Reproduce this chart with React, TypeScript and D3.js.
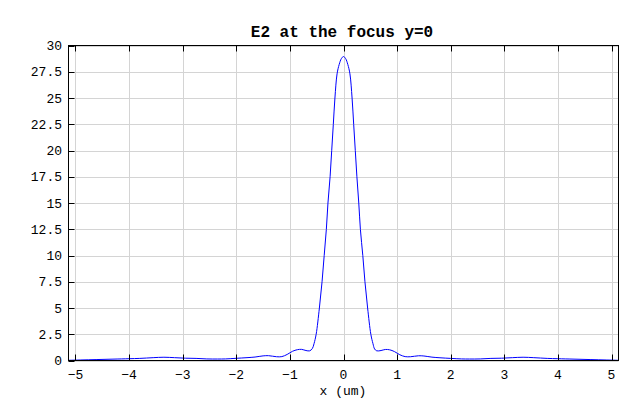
import { useRef, useEffect } from "react";
import * as d3 from "d3";

// E2 intensity at focus
const xPos = [
  -5.13, -4.9, -4.6, -4.3, -4.0, -3.8, -3.55, -3.35, -3.15, -2.95, -2.75,
  -2.55, -2.35, -2.2, -2.0, -1.8, -1.65, -1.5, -1.4, -1.25, -1.15, -1.05,
  -0.95, -0.86, -0.78, -0.7, -0.63, -0.58, -0.55, -0.51, -0.45, -0.4, -0.36,
  -0.32, -0.29, -0.25, -0.22, -0.19, -0.16, -0.12, -0.08, -0.04, 0, 0.04,
  0.08, 0.12, 0.16, 0.19, 0.22, 0.25, 0.285, 0.315, 0.36, 0.4, 0.45, 0.51,
  0.55, 0.58, 0.62, 0.7, 0.78, 0.86, 0.95, 1.05, 1.15, 1.25, 1.4, 1.5, 1.65,
  1.8, 2.0, 2.2, 2.35, 2.55, 2.75, 2.95, 3.15, 3.35, 3.55, 3.8, 4.0, 4.3,
  4.6, 4.9, 5.13,
];
const e2 = [
  0.02, 0.05, 0.09, 0.13, 0.17, 0.2, 0.27, 0.31, 0.27, 0.22, 0.2, 0.15, 0.14,
  0.15, 0.21, 0.27, 0.33, 0.44, 0.46, 0.36, 0.37, 0.58, 0.88, 1.03, 1.06,
  0.95, 0.92, 1.15, 1.6, 2.5, 5.0, 7.5, 10, 12.5, 15, 17.5, 20, 22.5, 25,
  27.3, 28.2, 28.75, 28.95, 28.75, 28.2, 27.3, 25, 22.5, 20, 17.5, 15, 12.5,
  10, 7.5, 5.0, 2.5, 1.6, 1.1, 0.92, 0.95, 1.05, 1.02, 0.85, 0.55, 0.37,
  0.36, 0.45, 0.43, 0.32, 0.26, 0.2, 0.15, 0.14, 0.15, 0.2, 0.22, 0.27,
  0.31, 0.27, 0.2, 0.17, 0.13, 0.09, 0.05, 0.02,
];
const xTicks = [-5, -4, -3, -2, -1, 0, 1, 2, 3, 4, 5];
const yTicks = [0, 2.5, 5, 7.5, 10, 12.5, 15, 17.5, 20, 22.5, 25, 27.5, 30];

const chartTitle = "E2 at the focus y=0";
const xTitle = "x (um)";

export default function App() {
  const svgRef = useRef(null);
  const width = 640;
  const height = 418;
  const L = 68.5, R = 618.5, T = 45.5, B = 360.5;
  const font = "'Liberation Mono', 'DejaVu Sans Mono', monospace";

  function renderChart() {
    const svg = d3.select(svgRef.current);
    svg.selectAll("*").remove();

    const x = d3.scaleLinear().domain([-5.13, 5.13]).range([L, R]);
    const y = d3.scaleLinear().domain([0, 30]).range([B, T]);

    // grid
    const grid = svg.append("g").attr("stroke", "#d4d4d4").attr("stroke-width", 1);
    grid
      .selectAll("line.gx")
      .data(xTicks)
      .join("line")
      .attr("x1", (d) => Math.round(x(d)) + 0.5)
      .attr("x2", (d) => Math.round(x(d)) + 0.5)
      .attr("y1", T)
      .attr("y2", B);
    grid
      .selectAll("line.gy")
      .data(yTicks)
      .join("line")
      .attr("class", "gy")
      .attr("x1", L)
      .attr("x2", R)
      .attr("y1", (d) => Math.round(y(d)) + 0.5)
      .attr("y2", (d) => Math.round(y(d)) + 0.5);

    // curve
    const line = d3
      .line<number>()
      .x((_, i) => x(xPos[i]))
      .y((d) => y(d))
      .curve(d3.curveCatmullRom.alpha(0.5));
    svg
      .append("path")
      .datum(e2)
      .attr("d", line)
      .attr("fill", "none")
      .attr("stroke", "#0000ff")
      .attr("stroke-width", 1);

    // frame
    svg
      .append("rect")
      .attr("x", L)
      .attr("y", T)
      .attr("width", R - L)
      .attr("height", B - T)
      .attr("fill", "none")
      .attr("stroke", "#000")
      .attr("stroke-width", 1);

    // ticks (inward)
    const tk = svg.append("g").attr("stroke", "#000").attr("stroke-width", 1);
    xTicks.forEach((d) => {
      const px = Math.round(x(d)) + 0.5;
      tk.append("line").attr("x1", px).attr("x2", px).attr("y1", B).attr("y2", B - 6);
      tk.append("line").attr("x1", px).attr("x2", px).attr("y1", T).attr("y2", T + 6);
    });
    yTicks.forEach((d) => {
      const py = Math.round(y(d)) + 0.5;
      tk.append("line").attr("x1", L).attr("x2", L + 6).attr("y1", py).attr("y2", py);
    });

    // tick labels
    svg
      .append("g")
      .selectAll("text")
      .data(xTicks)
      .join("text")
      .attr("x", (d) => x(d))
      .attr("y", 379)
      .attr("text-anchor", "middle")
      .attr("font-family", font)
      .attr("font-size", 13)
      .text((d) => (d < 0 ? "\u2212" + Math.abs(d) : String(d)));
    svg
      .append("g")
      .selectAll("text")
      .data(yTicks)
      .join("text")
      .attr("x", 62)
      .attr("y", (d) => y(d))
      .attr("dy", "0.35em")
      .attr("text-anchor", "end")
      .attr("font-family", font)
      .attr("font-size", 13)
      .text((d) => String(d));

    svg
      .append("text")
      .attr("x", 343)
      .attr("y", 395)
      .attr("text-anchor", "middle")
      .attr("font-family", font)
      .attr("font-size", 13)
      .text(xTitle);

    svg
      .append("text")
      .attr("x", 342)
      .attr("y", 37)
      .attr("text-anchor", "middle")
      .attr("font-family", font)
      .attr("font-size", 16)
      .attr("font-weight", "bold")
      .text(chartTitle);
  }

  useEffect(() => {
    renderChart();
  }, []);

  return (
    <div>
      <svg
        ref={svgRef}
        width={width}
        height={height}
        style={{ position: "absolute", left: 0, top: 0, background: "#fff" }}
      />
    </div>
  );
}
